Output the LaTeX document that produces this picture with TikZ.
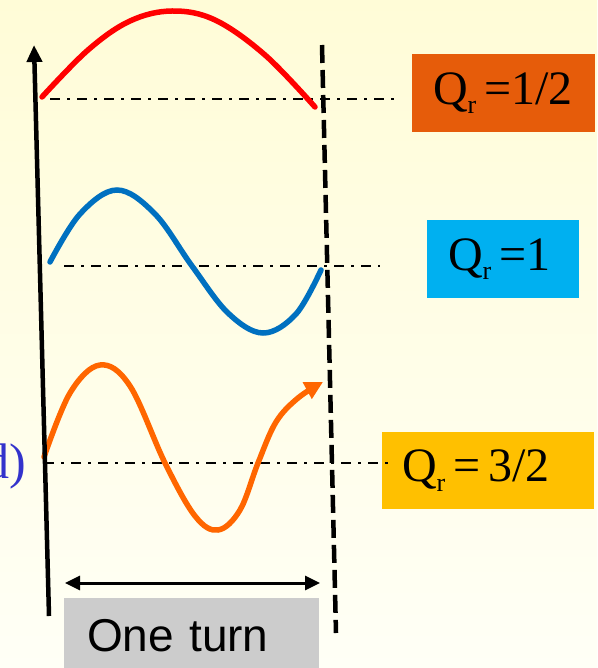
\documentclass[tikz,border=0pt]{standalone}
\usepackage{fontspec}
\setmainfont{Liberation Serif}
\setsansfont{Liberation Sans}
\usetikzlibrary{arrows.meta, positioning}

\definecolor{bgtop}{RGB}{255,252,215}
\definecolor{bgbot}{RGB}{255,255,246}
\definecolor{redwave}{RGB}{255,0,0}
\definecolor{bluewave}{RGB}{0,112,192}
\definecolor{orangewave}{RGB}{255,102,0}
\definecolor{boxorange}{RGB}{230,92,10}
\definecolor{boxblue}{RGB}{0,176,240}
\definecolor{boxyellow}{RGB}{255,192,0}
\definecolor{boxgray}{RGB}{204,204,204}
\definecolor{labelblue}{RGB}{51,51,204}

\newcommand{\qr}{Q\raisebox{-0.2em}{\fontsize{26}{26}\selectfont r}}

\tikzset{
  qbox/.style={fill=#1, inner ysep=0pt, inner xsep=21pt, align=left, font=\fontsize{48}{48}\selectfont},
  wave/.style={line width=5.5pt, line cap=round},
  level/.style={line width=2.5pt, dash pattern=on 10pt off 7pt on 3pt off 7pt},
}

\begin{document}
\begin{tikzpicture}[x=1pt, y=-1pt]
\useasboundingbox (0,0) rectangle (597,668);
\clip (0,0) rectangle (597,668);
\shade[top color=bgtop, bottom color=bgbot] (0,0) rectangle (597,668);

% boxes on the right
\node[qbox=boxorange, text width=141pt, minimum height=78pt] (qhalf) at (503.5,93) {\qr\,=1/2};
\node[qbox=boxblue, text width=110pt, minimum height=78pt] (qone) at (503,259) {\qr\,=1};
\node[qbox=boxyellow, inner xsep=20pt, text width=172pt, minimum height=77pt] (qthree) at (488,470.5) {\qr\,=\,3/2};
\node[qbox=boxgray, inner xsep=23pt, text width=209pt, minimum height=74pt, font=\sffamily\fontsize{46}{46}\selectfont,
  text depth=0pt] (turn) at (191.5,635) {One turn};
\node[anchor=base east, text=labelblue, font=\fontsize{50}{50}\selectfont, inner sep=0pt] (dlabel) at (26,478) {d)};

% reference lines
\coordinate (axbot) at (49,616);
\coordinate (axtop) at (34,45);
\coordinate (cuttop) at (322,45);
\coordinate (cutbot) at (336,633);
\coordinate (turnl) at (65,583);
\coordinate (turnr) at (320,583);

\draw[level] (50,99) -- (395,99);
\draw[level] (64,266) -- (380,266);
\draw[level] (44,463) -- (393,463);

% waves
\draw[wave, redwave] plot[smooth, tension=0.6] coordinates
  {(42,97) (88,50) (130,21) (172,11) (215,20) (265,55) (315,107)};
\draw[wave, bluewave] plot[smooth, tension=0.6] coordinates
  {(50,262) (80,214) (117,190) (155,214) (192,266) (228,313) (263,333) (296,314) (321,270)};
\draw[wave, orangewave, -{Triangle[length=18pt, width=18pt]}] plot[smooth, tension=0.6] coordinates
  {(44,457) (70,393) (100,365) (130,386) (165,463) (195,516) (218,530) (240,510) (258,463) (276,422) (298,398) (323,382)};

% axes
\draw[line width=4.5pt, -{Triangle[length=17pt, width=15pt]}] (axbot) -- (axtop);
\draw[line width=4.5pt, dash pattern=on 18pt off 7pt] (cuttop) -- (cutbot);
\draw[line width=3pt, {Triangle[length=15pt, width=14pt]}-{Triangle[length=15pt, width=14pt]}] (turnl) -- (turnr);
\end{tikzpicture}
\end{document}
